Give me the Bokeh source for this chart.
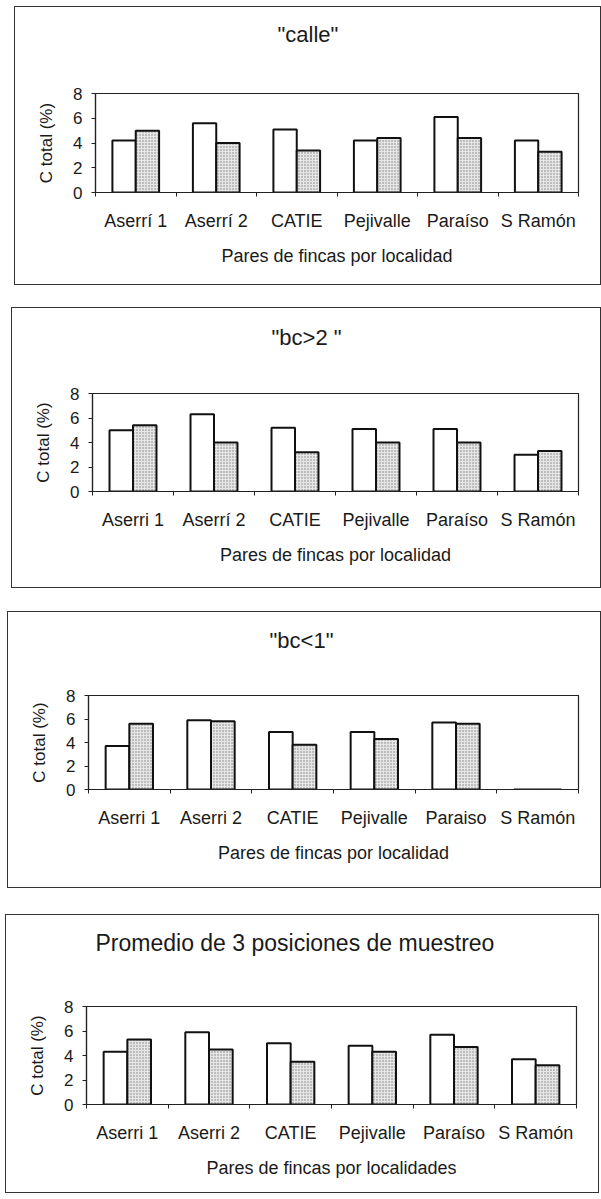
from bokeh.plotting import figure
from bokeh.layouts import column
from bokeh.models import Range1d, FixedTicker, LinearAxis, Title
from bokeh.embed import file_html
from bokeh.resources import INLINE

# ---------------- data ----------------
titles = ['"calle"', '"bc>2 "', '"bc<1"', 'Promedio de 3 posiciones de muestreo']
x_titles = ["Pares de fincas por localidad", "Pares de fincas por localidad",
            "Pares de fincas por localidad", "Pares de fincas por localidades"]
y_title = "C total (%)"

cats_1 = ["Aserrí 1", "Aserrí 2", "CATIE", "Pejivalle", "Paraíso", "S Ramón"]
cats_2 = ["Aserri 1", "Aserrí 2", "CATIE", "Pejivalle", "Paraíso", "S Ramón"]
cats_3 = ["Aserri 1", "Aserri 2", "CATIE", "Pejivalle", "Paraiso", "S Ramón"]
cats_4 = ["Aserri 1", "Aserri 2", "CATIE", "Pejivalle", "Paraíso", "S Ramón"]

white_1 = [4.2, 5.6, 5.1, 4.2, 6.1, 4.2]
shaded_1 = [5.0, 4.0, 3.4, 4.4, 4.4, 3.3]
white_2 = [5.0, 6.3, 5.2, 5.1, 5.1, 3.0]
shaded_2 = [5.4, 4.0, 3.2, 4.0, 4.0, 3.3]
white_3 = [3.7, 5.9, 4.9, 4.9, 5.7, 0.0]
shaded_3 = [5.6, 5.8, 3.8, 4.3, 5.6, 0.0]
white_4 = [4.3, 5.9, 5.0, 4.8, 5.7, 3.7]
shaded_4 = [5.3, 4.5, 3.5, 4.3, 4.7, 3.2]

y_ticks = [0, 2, 4, 6, 8]

FONT = "Liberation Sans"
INK = "#1a1a1a"


def make_panel(cats, white, shaded, title, xtitle, *, w, h, mbl, mbr, mbt, mbb,
               margin, t_size, t_offset, t_gap):
    n = len(cats)
    p = figure(width=w, height=h, output_backend="svg", toolbar_location=None,
               x_range=Range1d(0, n), y_range=Range1d(0, 8),
               min_border_left=mbl, min_border_right=mbr,
               min_border_top=mbt, min_border_bottom=mbb, margin=margin)
    p.styles = {"outline": "1px solid #333", "outline-offset": "0px"}
    p.background_fill_color = "white"
    p.border_fill_color = "white"
    p.outline_line_color = "#222"
    p.outline_line_width = 1.2
    p.xgrid.visible = False
    p.ygrid.visible = False
    p.title.visible = False

    # empty spacer axis right above the frame: pushes the title up
    spacer = LinearAxis(ticker=FixedTicker(ticks=[0]), axis_line_color=None,
                        major_tick_line_color=None, minor_tick_line_color=None,
                        major_tick_out=t_gap, major_tick_in=0, minor_tick_out=0,
                        major_label_standoff=0, major_label_overrides={0: ""},
                        major_label_text_font_size="1px")
    p.add_layout(spacer, "above")
    p.add_layout(Title(text=title, align="left", offset=t_offset, standoff=10,
                       text_font=FONT, text_font_size=t_size,
                       text_font_style="normal", text_color=INK), "above")

    centers = [i + 0.5 for i in range(n)]
    bw = 0.29
    p.vbar(x=[c - bw / 2 for c in centers], top=white, bottom=0, width=bw,
           fill_color="white", line_color="#111", line_width=2)
    p.vbar(x=[c + bw / 2 for c in centers], top=shaded, bottom=0, width=bw,
           fill_color="#e6e6e6", line_color="#111", line_width=2,
           hatch_pattern="dot", hatch_color="#808080", hatch_scale=3, hatch_weight=1)

    xa = p.below[0]
    xa.ticker = FixedTicker(ticks=centers, minor_ticks=list(range(n + 1)))
    xa.major_label_overrides = {c: lab for c, lab in zip(centers, cats)}
    xa.major_tick_line_color = None
    xa.major_tick_out = 4
    xa.major_tick_in = 0
    xa.minor_tick_out = 4
    xa.minor_tick_in = 0
    xa.minor_tick_line_color = "#222"
    xa.axis_line_color = "#222"
    xa.axis_line_width = 1.2
    xa.major_label_standoff = 14
    xa.major_label_text_font = FONT
    xa.major_label_text_font_size = "18px"
    xa.major_label_text_color = INK
    xa.axis_label = xtitle
    xa.axis_label_standoff = 12
    xa.axis_label_text_font = FONT
    xa.axis_label_text_font_size = "18px"
    xa.axis_label_text_font_style = "normal"
    xa.axis_label_text_color = INK

    ya = p.left[0]
    ya.ticker = FixedTicker(ticks=y_ticks)
    ya.major_tick_out = 4
    ya.major_tick_in = 0
    ya.minor_tick_line_color = None
    ya.major_tick_line_color = "#222"
    ya.axis_line_color = "#222"
    ya.axis_line_width = 1.2
    ya.major_label_standoff = 9
    ya.major_label_text_font = FONT
    ya.major_label_text_font_size = "17px"
    ya.major_label_text_color = INK
    ya.axis_label = y_title
    ya.axis_label_standoff = 14
    ya.axis_label_text_font = FONT
    ya.axis_label_text_font_size = "17px"
    ya.axis_label_text_font_style = "normal"
    ya.axis_label_text_color = INK
    return p


p1 = make_panel(cats_1, white_1, shaded_1, titles[0], x_titles[0],
                w=585, h=277, mbl=80, mbr=11, mbt=86, mbb=92, margin=(7, 0, 0, 15),
                t_size="22px", t_offset=182, t_gap=42)
p2 = make_panel(cats_2, white_2, shaded_2, titles[1], x_titles[1],
                w=588, h=279, mbl=79, mbr=11, mbt=85, mbb=96, margin=(24, 0, 0, 12),
                t_size="22px", t_offset=179, t_gap=39)
p3 = make_panel(cats_3, white_3, shaded_3, titles[2], x_titles[2],
                w=592, h=275, mbl=75, mbr=22, mbt=83, mbb=98, margin=(25, 0, 0, 8),
                t_size="22px", t_offset=181, t_gap=38)
p4 = make_panel(cats_4, white_4, shaded_4, titles[3], x_titles[3],
                w=592, h=277, mbl=73, mbr=15, mbt=91, mbb=88, margin=(28, 0, 0, 6),
                t_size="23px", t_offset=9, t_gap=46)

layout = column(p1, p2, p3, p4, spacing=0)
open("out.html", "w").write(file_html(layout, INLINE))
